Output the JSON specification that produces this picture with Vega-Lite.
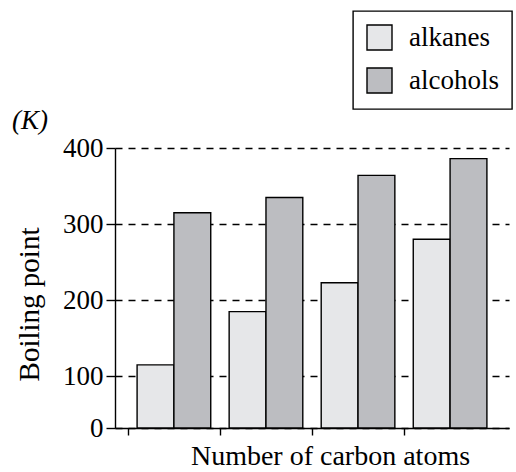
{
  "$schema": "https://vega.github.io/schema/vega-lite/v6.json",
  "width": 394,
  "height": 280,
  "autosize": "none",
  "padding": {"left": 115, "top": 148, "right": 7, "bottom": 44},
  "background": "white",
  "title": {"text": "(K)", "orient": "none", "anchor": "start", "frame": "group", "align": "left", "baseline": "alphabetic", "dx": -103, "dy": -19, "font": "Liberation Serif", "fontSize": 27, "fontStyle": "italic", "fontWeight": "normal", "color": "black"},
  "data": {
    "values": [
      {"group": "1", "type": "alkanes", "bp": 115},
      {"group": "1", "type": "alcohols", "bp": 315},
      {"group": "2", "type": "alkanes", "bp": 185},
      {"group": "2", "type": "alcohols", "bp": 335},
      {"group": "3", "type": "alkanes", "bp": 223},
      {"group": "3", "type": "alcohols", "bp": 364},
      {"group": "4", "type": "alkanes", "bp": 280},
      {"group": "4", "type": "alcohols", "bp": 386}
    ]
  },
  "mark": {"type": "bar", "stroke": "black", "strokeWidth": 1.4},
  "encoding": {
    "x": {
      "field": "group", "type": "nominal",
      "scale": {"paddingInner": 0.2, "paddingOuter": 0.24},
      "axis": {"labels": false, "ticks": true, "tickSize": 7, "tickColor": "black", "tickWidth": 1.4, "bandPosition": 0, "tickOffset": -9, "domainColor": "black", "domainWidth": 1.4, "title": "Number of carbon atoms", "titleFont": "Liberation Serif", "titleFontSize": 28, "titleFontWeight": "normal", "titleColor": "black", "titlePadding": 7, "titleX": 215}
    },
    "xOffset": {"field": "type", "type": "nominal", "sort": ["alkanes", "alcohols"], "scale": {"paddingInner": 0, "paddingOuter": 0}},
    "y": {
      "field": "bp", "type": "quantitative",
      "scale": {"domain": [0, 100, 400], "range": [280, 228.3, 0], "nice": false, "zero": false},
      "axis": {"values": [0, 100, 200, 300, 400], "grid": true, "gridColor": "black", "gridDash": [7, 6], "gridWidth": 1.4, "tickColor": "black", "tickSize": 9, "tickWidth": 1.4, "domainColor": "black", "domainWidth": 1.4, "labelFont": "Liberation Serif", "labelFontSize": 27, "labelColor": "black", "labelPadding": 3, "title": "Boiling point", "titleFont": "Liberation Serif", "titleFontSize": 29, "titleFontWeight": "normal", "titleColor": "black", "titlePadding": 18, "titleY": 156}
    },
    "fill": {
      "field": "type", "type": "nominal",
      "scale": {"domain": ["alkanes", "alcohols"], "range": ["#e6e7e9", "#bcbdc1"]},
      "legend": {"title": null, "orient": "none", "legendX": 238, "legendY": -137, "symbolType": "square", "symbolSize": 625, "symbolStrokeColor": "black", "symbolStrokeWidth": 1.4, "symbolOpacity": 1, "labelFont": "Liberation Serif", "labelFontSize": 27, "labelColor": "black", "labelOffset": 16, "rowPadding": 12, "padding": 13, "strokeColor": "black", "fillColor": "white"}
    }
  },
  "config": {"view": {"stroke": null}, "legend": {"strokeWidth": 1.4}}
}
